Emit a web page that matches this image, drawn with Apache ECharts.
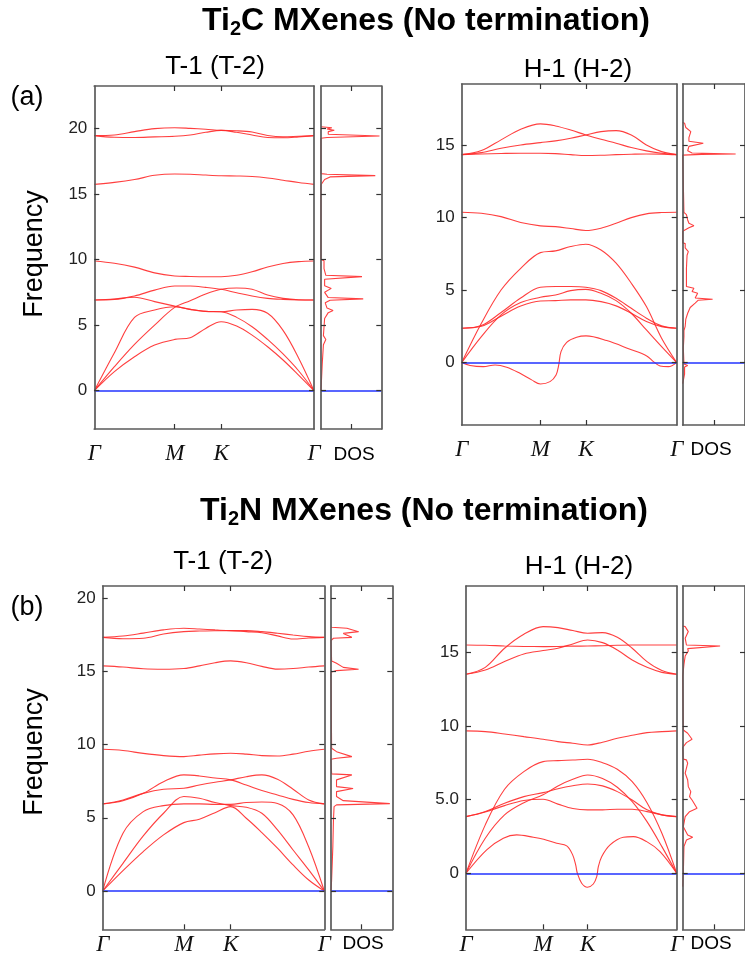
<!DOCTYPE html>
<html><head><meta charset="utf-8">
<script src="https://cdn.jsdelivr.net/npm/echarts@6/dist/echarts.min.js"></script>
<style>html,body{margin:0;padding:0;background:#fff}#c{width:745px;height:962px}</style>
</head><body><div id="c"></div>
<script>
// ---- k-path (Γ-M-K-Γ) ----
const kPath = [0, 0.25, 0.5, 0.75, 1.0, 1.192, 1.385, 1.577, 1.77, 1.962, 2.155, 2.347, 2.54, 2.732];
const kTickValues = [0, 1.0, 1.577, 2.732];
const kTickLabels = ['Γ', 'M', 'K', 'Γ'];

// ---- (a) Ti2C, T-1 (T-2) bands (freq on kPath) ----
const c_t_za  = [0, 1.45, 2.59, 3.48, 3.91, 4.04, 4.75, 5.26, 4.93, 4.24, 3.35, 2.34, 1.19, 0];
const c_t_ta  = [0, 1.83, 3.53, 5.0, 6.35, 6.86, 7.37, 7.73, 7.83, 7.73, 7.29, 7.04, 6.93, 6.91];
const c_t_la  = [0, 2.9, 5.59, 6.15, 6.4, 6.2, 6.05, 6.02, 5.59, 4.88, 3.91, 2.8, 1.52, 0];
const c_t_o1  = [6.91, 6.96, 7.12, 6.79, 6.45, 6.2, 6.05, 6.02, 6.15, 6.2, 5.9, 4.6, 2.5, 0];
const c_t_o2  = [6.91, 6.99, 7.22, 7.67, 7.98, 7.98, 7.88, 7.73, 7.47, 7.22, 7.04, 6.96, 6.92, 6.91];
const c_t_o3  = [9.89, 9.72, 9.42, 8.98, 8.75, 8.71, 8.69, 8.69, 8.8, 9.07, 9.43, 9.7, 9.84, 9.89];
const c_t_o4  = [15.73, 15.88, 16.1, 16.42, 16.52, 16.5, 16.44, 16.39, 16.37, 16.33, 16.22, 16.05, 15.87, 15.73];
const c_t_o5  = [19.45, 19.32, 19.3, 19.35, 19.4, 19.5, 19.7, 19.85, 19.7, 19.5, 19.3, 19.28, 19.35, 19.45];
const c_t_o6  = [19.45, 19.5, 19.75, 19.98, 20.05, 20.0, 19.93, 19.85, 19.82, 19.72, 19.45, 19.35, 19.4, 19.45];
const c_t_dosF = [0, 2.0, 3.5, 3.9, 4.2, 5.5, 5.95, 6.12, 6.3, 6.7, 6.9, 7.0, 7.1, 7.5, 7.8, 8.0, 8.5, 8.7, 8.8, 9.3, 9.9, 10.0, 15.7, 15.72, 16.1, 16.3, 16.4, 16.5, 16.55, 19.25, 19.3, 19.42, 19.55, 19.75, 19.85, 19.95, 20.05, 20.12];
const c_t_dosV = [0, 0.02, 0.04, 0.08, 0.04, 0.06, 0.12, 0.2, 0.1, 0.07, 0.15, 0.7, 0.12, 0.06, 0.17, 0.06, 0.06, 0.68, 0.08, 0.05, 0.05, 0, 0, 0.03, 0.06, 0.15, 0.9, 0.1, 0, 0, 0.1, 0.97, 0.12, 0.12, 0.22, 0.1, 0.18, 0];

// ---- (a) Ti2C, H-1 (H-2) bands ----
const c_h_la  = [0, 2.71, 5.0, 6.5, 7.58, 7.7, 8.0, 8.16, 7.76, 6.85, 5.47, 3.86, 1.68, 0];
const c_h_ta  = [0, 1.79, 3.29, 4.14, 4.5, 4.66, 4.96, 5.05, 4.78, 4.27, 3.4, 2.25, 1.1, 0];
const c_h_o1  = [2.37, 2.55, 3.45, 4.45, 5.19, 5.24, 5.24, 5.19, 4.96, 4.43, 3.74, 3.06, 2.53, 2.37];
const c_h_o2  = [2.37, 2.5, 3.2, 3.9, 4.25, 4.27, 4.32, 4.32, 4.2, 3.91, 3.4, 2.83, 2.48, 2.37];
const c_h_o3  = [10.36, 10.29, 10.06, 9.65, 9.42, 9.37, 9.24, 9.1, 9.26, 9.6, 9.99, 10.25, 10.34, 10.36];
const c_h_o4  = [14.33, 14.38, 14.41, 14.43, 14.43, 14.4, 14.33, 14.27, 14.29, 14.33, 14.36, 14.38, 14.37, 14.33];
const c_h_o5  = [14.33, 14.47, 14.77, 15.0, 15.16, 15.28, 15.46, 15.69, 15.92, 15.99, 15.69, 15.0, 14.54, 14.33];
const c_h_o6  = [14.33, 14.61, 15.35, 16.08, 16.45, 16.31, 16.03, 15.69, 15.39, 15.12, 14.82, 14.59, 14.43, 14.33];
const c_h_zaK = [0, 0.106, 0.275, 0.424, 0.572, 0.741, 0.889, 1.0, 1.122, 1.199, 1.233, 1.262, 1.334, 1.461, 1.58, 1.843, 2.139, 2.351, 2.436, 2.52, 2.626, 2.732];
const c_h_zaF = [0, -0.2, -0.28, -0.16, -0.32, -0.74, -1.19, -1.47, -1.31, -0.85, -0.16, 0.76, 1.4, 1.75, 1.84, 1.52, 0.92, 0.46, 0.07, -0.23, -0.28, 0];
const c_h_dosF = [-1.45, -1.4, -0.8, -0.3, -0.2, -0.1, 0, 1.0, 1.8, 2.2, 2.5, 3.0, 3.4, 3.8, 4.1, 4.3, 4.37, 4.45, 4.78, 4.9, 5.13, 5.25, 5.5, 6.5, 7.4, 7.65, 7.9, 8.2, 8.25, 9.05, 9.1, 9.3, 9.44, 9.6, 9.83, 10.2, 10.35, 10.4, 14.3, 14.35, 14.38, 14.45, 14.6, 14.9, 15.12, 15.25, 15.5, 15.92, 16.2, 16.5, 16.55];
const c_h_dosV = [0, 0.02, 0.03, 0.03, 0.08, 0.02, 0.01, 0.01, 0.02, 0.02, 0.04, 0.05, 0.08, 0.12, 0.2, 0.25, 0.48, 0.2, 0.24, 0.15, 0.18, 0.06, 0.06, 0.06, 0.07, 0.09, 0.04, 0.04, 0, 0, 0.03, 0.1, 0.18, 0.1, 0.08, 0.06, 0.02, 0, 0, 0.3, 0.85, 0.15, 0.08, 0.1, 0.33, 0.1, 0.1, 0.13, 0.05, 0.03, 0];

// ---- (b) Ti2N, T-1 (T-2) bands ----
const n_t_za  = [0, 1.39, 2.69, 3.83, 4.67, 4.9, 5.35, 5.76, 4.97, 3.99, 2.92, 1.78, 0.75, 0];
const n_t_ta  = [0, 1.89, 3.76, 5.31, 6.45, 6.33, 6.04, 5.83, 5.72, 5.31, 4.17, 2.8, 1.44, 0];
const n_t_la  = [0, 3.94, 5.42, 5.83, 5.95, 5.95, 5.92, 5.92, 6.04, 6.08, 5.98, 5.2, 3.0, 0];
const n_t_o1  = [5.95, 6.17, 6.67, 7.47, 7.93, 7.86, 7.72, 7.59, 7.24, 6.86, 6.56, 6.26, 6.04, 5.95];
const n_t_o2  = [5.95, 6.22, 6.67, 6.95, 7.02, 7.24, 7.43, 7.59, 7.81, 7.93, 7.63, 6.95, 6.22, 5.95];
const n_t_o3  = [9.68, 9.6, 9.4, 9.25, 9.18, 9.28, 9.37, 9.41, 9.35, 9.25, 9.22, 9.35, 9.55, 9.68];
const n_t_o4  = [15.38, 15.3, 15.18, 15.15, 15.2, 15.38, 15.6, 15.72, 15.6, 15.35, 15.16, 15.2, 15.3, 15.38];
const n_t_o5  = [17.33, 17.24, 17.27, 17.56, 17.72, 17.76, 17.78, 17.79, 17.72, 17.65, 17.43, 17.22, 17.29, 17.33];
const n_t_o6  = [17.33, 17.42, 17.62, 17.84, 17.95, 17.9, 17.84, 17.79, 17.79, 17.72, 17.61, 17.49, 17.38, 17.33];
const n_t_dosF = [0, 0.75, 3.03, 4.85, 5.76, 5.88, 5.97, 6.17, 6.45, 6.79, 7.0, 7.13, 7.59, 7.93, 8.0, 8.05, 9.0, 9.07, 9.18, 9.52, 9.75, 9.8, 14.95, 14.97, 15.06, 15.15, 15.28, 15.56, 15.72, 15.75, 17.1, 17.15, 17.27, 17.33, 17.6, 17.72, 17.95, 18.02, 18.05];
const n_t_dosV = [0, 0.01, 0.03, 0.04, 0.05, 0.09, 0.96, 0.2, 0.09, 0.09, 0.36, 0.09, 0.09, 0.34, 0.01, 0, 0, 0.09, 0.34, 0.09, 0.01, 0, 0, 0.01, 0.09, 0.45, 0.2, 0.09, 0.01, 0, 0, 0.01, 0.04, 0.34, 0.2, 0.45, 0.26, 0.01, 0];

// ---- (b) Ti2N, H-1 (H-2) bands ----
const n_h_la  = [0, 3.29, 5.71, 6.91, 7.59, 7.66, 7.7, 7.75, 7.52, 7.07, 6.23, 4.8, 2.72, 0];
const n_h_ta  = [0, 2.38, 3.97, 4.8, 5.33, 5.94, 6.39, 6.68, 6.44, 5.85, 4.87, 3.51, 1.81, 0];
const n_h_o1  = [3.85, 4.2, 4.76, 5.21, 5.48, 5.75, 5.95, 6.07, 5.94, 5.55, 4.98, 4.31, 3.97, 3.85];
const n_h_o2  = [3.85, 4.17, 4.6, 4.95, 5.03, 4.7, 4.4, 4.31, 4.31, 4.35, 4.35, 4.19, 3.97, 3.85];
const n_h_o3  = [9.68, 9.63, 9.47, 9.29, 9.11, 8.95, 8.84, 8.72, 8.91, 9.18, 9.38, 9.56, 9.63, 9.68];
const n_h_o4  = [13.53, 13.82, 14.39, 14.91, 15.14, 15.3, 15.59, 15.86, 15.68, 15.18, 14.5, 14.0, 13.66, 13.53];
const n_h_o5  = [15.52, 15.5, 15.45, 15.42, 15.41, 15.42, 15.44, 15.45, 15.47, 15.5, 15.52, 15.52, 15.52, 15.52];
const n_h_o6  = [13.53, 14.0, 15.3, 16.25, 16.77, 16.7, 16.5, 16.32, 16.36, 16.04, 15.3, 14.39, 13.78, 13.53];
const n_h_zaK = [0, 0.268, 0.484, 0.657, 0.873, 1.007, 1.176, 1.306, 1.383, 1.422, 1.444, 1.5, 1.574, 1.651, 1.695, 1.716, 1.759, 1.868, 2.04, 2.17, 2.343, 2.516, 2.732];
const n_h_zaF = [0, 1.59, 2.38, 2.61, 2.45, 2.31, 2.04, 1.86, 1.25, 0.57, 0, -0.68, -0.95, -0.73, -0.23, 0.45, 1.13, 1.93, 2.45, 2.49, 2.15, 1.47, 0];
const n_h_dosF = [-0.91, 0, 1.81, 2.26, 2.45, 2.6, 3.17, 3.85, 4.19, 4.42, 4.98, 5.21, 5.55, 5.89, 6.34, 6.8, 7.48, 7.71, 7.76, 7.8, 8.55, 8.61, 8.88, 9.11, 9.52, 9.74, 9.8, 13.4, 13.47, 14.2, 14.77, 15.11, 15.27, 15.45, 15.52, 15.98, 16.43, 16.77, 16.81];
const n_h_dosV = [0, 0.01, 0.02, 0.06, 0.16, 0.08, 0.01, 0.04, 0.11, 0.23, 0.15, 0.11, 0.13, 0.09, 0.08, 0.04, 0.08, 0.06, 0.01, 0, 0, 0.01, 0.06, 0.15, 0.08, 0.01, 0, 0, 0.01, 0.02, 0.04, 0.09, 0.08, 0.6, 0.06, 0.04, 0.09, 0.04, 0];

// ---- tick labels ----
const yTicksA = [0, 5, 10, 15, 20];
const yTicksB = [0, 5, 10, 15];
const yTicksC = [0, 5, 10, 15, 20];
const yTicksD = [0, 5, 10, 15];
const yLabelsD = ['0', '5.0', '10', '15'];

// ================= layout / style =================
const RED = '#ff2a2a', BLUE = '#2233ff', FRAME = '#5a5a5a';
const panels = [
  {box: [94.3, 86, 219.7, 343], yr: [-2.92, 23.23], ticks: yTicksA, bands: [c_t_za, c_t_ta, c_t_la, c_t_o1, c_t_o2, c_t_o3, c_t_o4, c_t_o5, c_t_o6], za: null, dos: [321, 60.3], dosF: c_t_dosF, dosV: c_t_dosV, lm: 13},
  {box: [461.7, 84, 215, 341], yr: [-4.3, 19.2], ticks: yTicksB, bands: [c_h_la, c_h_ta, c_h_o1, c_h_o2, c_h_o3, c_h_o4, c_h_o5, c_h_o6], za: [c_h_zaK, c_h_zaF], dos: [682.7, 96], dosF: c_h_dosF, dosV: c_h_dosV, lm: 13},
  {box: [102.7, 586, 221.6, 343.3], yr: [-2.62, 20.84], ticks: yTicksC, bands: [n_t_za, n_t_ta, n_t_la, n_t_o1, n_t_o2, n_t_o3, n_t_o4, n_t_o5, n_t_o6], za: null, dos: [331, 61.3], dosF: n_t_dosF, dosV: n_t_dosV, lm: 4},
  {box: [466, 586, 210.7, 343.3], yr: [-3.81, 19.53], ticks: yTicksD, labels: yLabelsD, bands: [n_h_la, n_h_ta, n_h_o1, n_h_o2, n_h_o3, n_h_o4, n_h_o5, n_h_o6], za: [n_h_zaK, n_h_zaF], dos: [682.7, 96], dosF: n_h_dosF, dosV: n_h_dosV, lm: 4}
];

const grid = [], xAxis = [], yAxis = [], series = [];
const tick = (vals) => ({show: true, inside: true, length: 5, lineStyle: {color: '#333', width: 1.2}, customValues: vals});
const frameLine = {show: true, onZero: false, lineStyle: {color: FRAME, width: 1.7}};
const common = {type: 'value', axisLine: frameLine, splitLine: {show: false}, z: 10};
panels.forEach((p, i) => {
  const gb = grid.length;
  grid.push({left: p.box[0], top: p.box[1], width: p.box[2], height: p.box[3], show: false});
  grid.push({left: p.dos[0], top: p.box[1], width: p.dos[1], height: p.box[3], show: false});
  // band panel axes
  const xb = xAxis.length;
  xAxis.push(Object.assign({}, common, {gridIndex: gb, position: 'bottom', min: 0, max: kTickValues[3],
    axisTick: tick([kTickValues[1], kTickValues[2]]),
    axisLabel: {show: true, customValues: kTickValues, formatter: v => kTickLabels[kTickValues.indexOf(v)], margin: p.lm,
      fontFamily: 'Liberation Serif', fontStyle: 'italic', fontSize: 23, color: '#111', showMinLabel: true, showMaxLabel: true, hideOverlap: false}}));
  xAxis.push(Object.assign({}, common, {gridIndex: gb, position: 'top', min: 0, max: kTickValues[3],
    axisTick: tick([kTickValues[1], kTickValues[2]]), axisLabel: {show: false}}));
  // dos axes
  xAxis.push(Object.assign({}, common, {gridIndex: gb + 1, position: 'bottom', min: 0, max: 1, axisTick: tick([0.5]), axisLabel: {show: false}}));
  xAxis.push(Object.assign({}, common, {gridIndex: gb + 1, position: 'top', min: 0, max: 1, axisTick: tick([0.5]), axisLabel: {show: false}}));
  const yb = yAxis.length;
  const lab = p.labels || p.ticks.map(String);
  yAxis.push(Object.assign({}, common, {gridIndex: gb, position: 'left', min: p.yr[0], max: p.yr[1], axisTick: tick(p.ticks),
    axisLabel: {show: true, customValues: p.ticks, formatter: v => lab[p.ticks.indexOf(v)], margin: 7, fontFamily: 'Liberation Sans', fontSize: 17, color: '#222'}}));
  yAxis.push(Object.assign({}, common, {gridIndex: gb, position: 'right', min: p.yr[0], max: p.yr[1], axisTick: tick(p.ticks), axisLabel: {show: false}}));
  yAxis.push(Object.assign({}, common, {gridIndex: gb + 1, position: 'left', min: p.yr[0], max: p.yr[1], axisTick: tick(p.ticks), axisLabel: {show: false}}));
  yAxis.push(Object.assign({}, common, {gridIndex: gb + 1, position: 'right', min: p.yr[0], max: p.yr[1], axisTick: tick(p.ticks), axisLabel: {show: false}}));

  const zeroLine = {silent: true, symbol: 'none', label: {show: false}, lineStyle: {color: BLUE, width: 1.6, type: 'solid'}, data: [{yAxis: 0}]};
  const base = {type: 'line', symbol: 'none', smooth: 0.35, silent: true, lineStyle: {color: RED, width: 1.1, opacity: 0.9}, z: 3};
  p.bands.forEach((b, j) => {
    series.push(Object.assign({}, base, {xAxisIndex: xb, yAxisIndex: yb, data: kPath.map((k, n) => [k, b[n]]),
      markLine: j === 0 ? zeroLine : undefined}));
  });
  if (p.za) series.push(Object.assign({}, base, {xAxisIndex: xb, yAxisIndex: yb, data: p.za[0].map((k, n) => [k, p.za[1][n]])}));
  series.push({type: 'line', symbol: 'none', smooth: false, silent: true, xAxisIndex: xb + 2, yAxisIndex: yb + 2,
    lineStyle: {color: RED, width: 1.1, opacity: 0.9}, z: 3, data: p.dosF.map((f, n) => [p.dosV[n], f]), markLine: zeroLine});
});

const T = (text, x, y, size, extra) => Object.assign({type: 'text', x, y, z: 100,
  style: {text, fill: '#000', fontSize: size, fontFamily: 'Liberation Sans', align: 'center', verticalAlign: 'middle'}}, extra || {});
const titleRich = {b: {fontSize: 32, fontWeight: 'bold', fontFamily: 'Liberation Sans', fill: '#000', lineHeight: 36},
                   s: {fontSize: 20, fontWeight: 'bold', fontFamily: 'Liberation Sans', fill: '#000', lineHeight: 36, verticalAlign: 'bottom'}};
const graphic = [
  {type: 'text', x: 426, y: 21, z: 100, style: {text: '{b|Ti}{s|2}{b|C MXenes (No termination)}', rich: titleRich, align: 'center', verticalAlign: 'middle'}},
  {type: 'text', x: 424, y: 511, z: 100, style: {text: '{b|Ti}{s|2}{b|N MXenes (No termination)}', rich: titleRich, align: 'center', verticalAlign: 'middle'}},
  T('T-1 (T-2)', 215, 67, 26), T('H-1 (H-2)', 578, 70, 26),
  T('T-1 (T-2)', 223, 562, 26), T('H-1 (H-2)', 579, 567, 26),
  T('(a)', 27, 98, 27), T('(b)', 27, 608, 27),
  T('Frequency', 35, 254, 27, {rotation: Math.PI / 2}), T('Frequency', 35, 752, 27, {rotation: Math.PI / 2}),
  T('DOS', 354, 455, 19), T('DOS', 711, 450, 19), T('DOS', 363, 944, 19), T('DOS', 711, 944, 19)
];

const chart = echarts.init(document.getElementById('c'), null, {renderer: 'canvas'});
chart.setOption({animation: false, backgroundColor: '#fff', grid, xAxis, yAxis, series, graphic});
</script></body></html>
